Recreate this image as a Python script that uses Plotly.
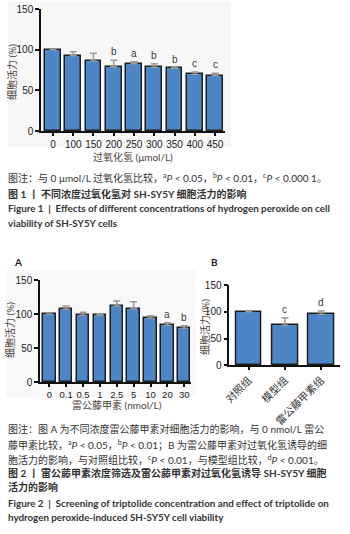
import plotly.graph_objects as go

# ---------------- data ----------------
fig1_labels = ["0", "100", "150", "200", "250", "300", "350", "400", "450"]
fig1_values = [100, 92.6, 86, 79, 82.8, 78.3, 77, 69.7, 68]
fig1_errors = [None, 4.9, 9.5, 8, 2.2, 4.5, 1, 2.8, 3]
fig1_letters = ["", "", "", "b", "a", "b", "b", "c", "c"]

figA_labels = ["0", "0.1", "0.5", "1", "2.5", "5", "10", "20", "30"]
figA_values = [100, 107, 98, 98.7, 111.7, 107.8, 93.6, 83.3, 79]
figA_errors = [None, 4.7, 4.5, 1.6, 7.3, 10.2, 3.9, 3.9, 3.8]
figA_letters = ["", "", "", "", "", "", "", "a", "b"]

figB_labels = ["对照组", "模型组", "雷公藤甲素组"]
figB_values = [100, 74.8, 95.3]
figB_errors = [None, 14.2, 6.2]
figB_letters = ["", "c", "d"]

y_ticks = [0, 50, 100, 150]

W, H = 350, 534
BLUE = "#4d86c6"
EDGE = "#1e1e1e"
ERR = "#9a9a9a"
TXT = "#333333"
TICKFONT = dict(family="Liberation Sans, Arial", size=10, color="#222222")
CJK = "Lato, Noto Sans CJK SC"


def px_x(p):
    return p / W


def px_y(p):
    return 1 - p / H


fig = go.Figure()


def add_panel(labels, values, errors, letters, xa, ya, width):
    fig.add_trace(go.Bar(
        x=labels, y=values, width=width,
        marker=dict(color=BLUE, line=dict(color=EDGE, width=1.5)),
        error_y=dict(type="data", symmetric=False,
                     array=errors, arrayminus=[0] * len(values),
                     color=ERR, thickness=1.5, width=3.5),
        xaxis=xa, yaxis=ya, showlegend=False, hoverinfo="skip",
    ))
    for i, (v, e, l) in enumerate(zip(values, errors, letters)):
        if l:
            fig.add_annotation(x=i, y=v + (e or 0), xref=xa, yref=ya,
                               text=l, showarrow=False, yanchor="bottom",
                               yshift=1,
                               font=dict(family="Liberation Sans, Arial",
                                         size=10, color="#3a3a3a"))


add_panel(fig1_labels, fig1_values, fig1_errors, fig1_letters, "x", "y", 0.78)
add_panel(figA_labels, figA_values, figA_errors, figA_letters, "x2", "y2", 0.74)
add_panel(figB_labels, figB_values, figB_errors, figB_letters, "x3", "y3", 0.71)

axis_common = dict(showline=True, linecolor="#111111", linewidth=1.5,
                   ticks="outside", tickcolor="#111111", tickwidth=1.5,
                   showgrid=False, zeroline=False, automargin=False)

fig.update_layout(
    width=W, height=H,
    margin=dict(l=0, r=0, t=0, b=0, autoexpand=False),
    paper_bgcolor="white", plot_bgcolor="rgba(0,0,0,0)",
    bargap=0,
    xaxis=dict(domain=[px_x(41), px_x(225)], anchor="y", type="category",
               range=[-0.59, 8.49], ticklen=3, tickfont=TICKFONT, **axis_common),
    yaxis=dict(domain=[px_y(131), px_y(9)], anchor="x", range=[0, 150],
               tickvals=y_ticks, ticklen=4, tickfont=TICKFONT, **axis_common),
    xaxis2=dict(domain=[px_x(40), px_x(191)], anchor="y2", type="category",
                range=[-0.55, 8.4], ticklen=3,
                tickfont=dict(family="Liberation Sans, Arial", size=9.5, color="#222222"),
                **axis_common),
    yaxis2=dict(domain=[px_y(382), px_y(280)], anchor="x2", range=[0, 150],
                tickvals=y_ticks, ticklen=4, tickfont=TICKFONT, **axis_common),
    xaxis3=dict(domain=[px_x(229.3), px_x(340)], anchor="y3", type="category",
                range=[-0.536, 2.52], ticklen=3, tickangle=-45,
                tickfont=dict(family=CJK, size=10.5, color="#333333"), **axis_common),
    yaxis3=dict(domain=[px_y(365.3), px_y(285)], anchor="x3", range=[0, 150],
                tickvals=y_ticks, ticklen=4, tickfont=TICKFONT, **axis_common),
)

# faint backdrop of the pasted chart images
fig.add_shape(type="rect", xref="paper", yref="paper", layer="below",
              x0=px_x(8), x1=px_x(231), y0=px_y(147), y1=px_y(2),
              fillcolor="#f7f7f7", line=dict(width=0))
fig.add_shape(type="rect", xref="paper", yref="paper", layer="below",
              x0=px_x(6), x1=px_x(196), y0=px_y(397), y1=px_y(270),
              fillcolor="#f8f8f8", line=dict(width=0))


def ann(x, y, text, size=10, bold=False, angle=0, anchor="left", color=TXT, family=CJK):
    if bold:
        text = "<b>" + text + "</b>"
    fig.add_annotation(x=px_x(x), y=px_y(y), xref="paper", yref="paper",
                       text=text, showarrow=False, xanchor=anchor,
                       yanchor="middle", textangle=angle,
                       font=dict(family=family, size=size, color=color))


# axis titles
ann(12, 72, "细胞活力 (%)", size=10, angle=-90, anchor="center", color="#4a4038")
ann(133, 157, "过氧化氢 (μmol/L)", size=10, anchor="center", color="#4a4038")
ann(10, 330, "细胞活力 (%)", size=10, angle=-90, anchor="center", color="#4a4038")
ann(117, 405, "雷公藤甲素 (nmol/L)", size=10, anchor="center", color="#4a4038")
ann(205, 327, "细胞活力 (%)", size=10, angle=-90, anchor="center", color="#4a4038")

# panel letters
ann(18, 262, "A", size=10, bold=True, anchor="center", color="#222222")
ann(214, 262, "B", size=10, bold=True, anchor="center", color="#222222")

# figure 1 captions
ann(6, 178, "图注：与 0 μmol/L 过氧化氢比较，<sup>a</sup><i>P</i> &lt; 0.05，<sup>b</sup><i>P</i> &lt; 0.01，<sup>c</sup><i>P</i> &lt; 0.000 1。")
ann(6, 194, "图 1 丨 不同浓度过氧化氢对 SH-SY5Y 细胞活力的影响", bold=True)
ann(6, 208, "Figure 1  |  Effects of different concentrations of hydrogen peroxide on cell", size=9.8, bold=True, family="Lato")
ann(6, 223, "viability of SH-SY5Y cells", size=9.8, bold=True, family="Lato")

# figure 2 captions
ann(6, 429, "图注：图 A 为不同浓度雷公藤甲素对细胞活力的影响，与 0 nmol/L 雷公")
ann(6, 444, "藤甲素比较，<sup>a</sup><i>P</i> &lt; 0.05，<sup>b</sup><i>P</i> &lt; 0.01；B 为雷公藤甲素对过氧化氢诱导的细")
ann(6, 459, "胞活力的影响，与对照组比较，<sup>c</sup><i>P</i> &lt; 0.01，与模型组比较，<sup>d</sup><i>P</i> &lt; 0.001。")
ann(6, 473, "图 2 丨 雷公藤甲素浓度筛选及雷公藤甲素对过氧化氢诱导 SH-SY5Y 细胞", bold=True)
ann(6, 487, "活力的影响", bold=True)
ann(6, 503, "Figure 2  |  Screening of triptolide concentration and effect of triptolide on", size=9.8, bold=True, family="Lato")
ann(6, 517, "hydrogen peroxide-induced SH-SY5Y cell viability", size=9.8, bold=True, family="Lato")

fig.write_html("out.html", config={"displayModeBar": False},
               post_script="document.body.style.margin='0';document.body.style.overflow='hidden';")
